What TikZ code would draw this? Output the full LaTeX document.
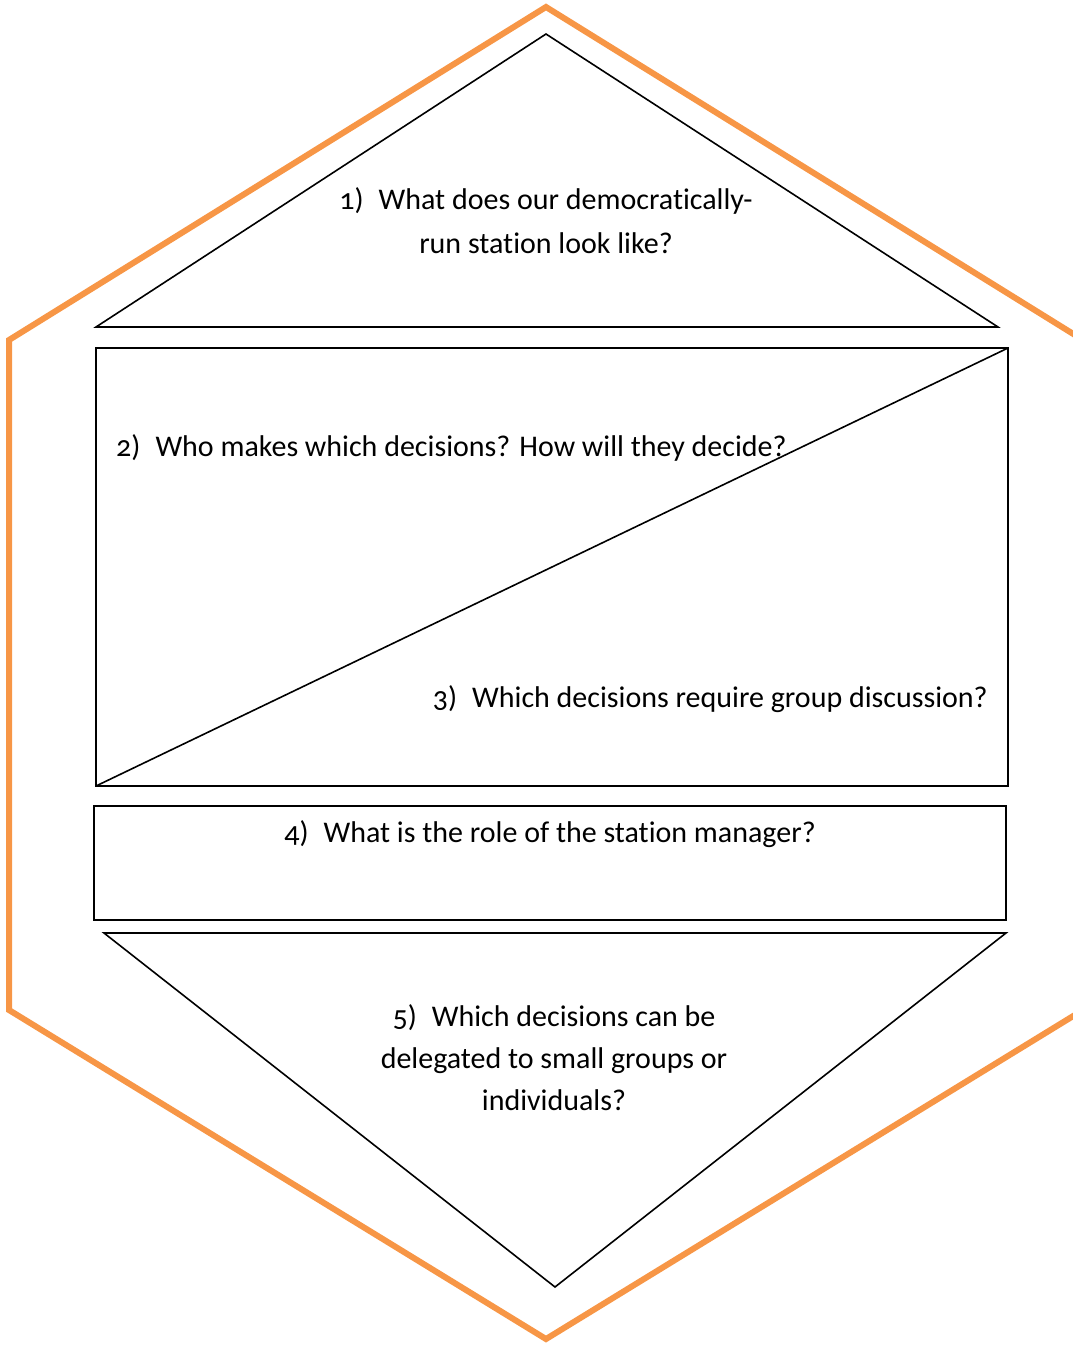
\documentclass[tikz,border=0pt]{standalone}
\usepackage{fontspec}
\setmainfont{Carlito}[Numbers=OldStyle,Ligatures=NoCommon]
\definecolor{hexorange}{HTML}{F79646}
\begin{document}
\begin{tikzpicture}[x=1pt,y=-1pt,
  frame/.style={draw=black,line width=1.6pt,line join=miter},
  qtext/.style={inner sep=0pt,font=\fontsize{30}{44}\selectfont}]
\useasboundingbox (0,0) rectangle (1073,1345);
\clip (0,0) rectangle (1073,1345);
% outer hexagon
\draw[draw=hexorange,line width=6pt,line join=miter]
  (546,7) -- (1083,340) -- (1083,1010) -- (546,1339) -- (9,1010) -- (9,340) -- cycle;
% top triangle
\coordinate (t1a) at (546,34);
\coordinate (t1l) at (96,327);
\coordinate (t1r) at (998,327);
\draw[frame] (t1a) -- (t1r) -- (t1l) -- cycle;
% split rectangle
\coordinate (r2tl) at (96,348);
\coordinate (r2br) at (1008,786);
\coordinate (r2bl) at (96,786);
\coordinate (r2tr) at (1008,348);
\draw[frame] (r2tl) rectangle (r2br);
\draw[frame] (r2bl) -- (r2tr);
% manager box
\coordinate (r4tl) at (94,806);
\coordinate (r4br) at (1006,920);
\draw[frame] (r4tl) rectangle (r4br);
% bottom triangle
\coordinate (t5l) at (104,933);
\coordinate (t5r) at (1006,933);
\coordinate (t5b) at (555,1287);
\draw[frame] (t5l) -- (t5r) -- (t5b) -- cycle;
% questions
\node[qtext,align=center] (q1) at (546,221)
  {1)\hspace{0.5em}What does our democratically-\\run station look like?};
\node[qtext,anchor=west] (q2) at (116,448)
  {2)\hspace{0.5em}Who makes which decisions? How will they decide?};
\node[qtext,anchor=east] (q3) at (988,699)
  {3)\hspace{0.5em}Which decisions require group discussion?};
\node[qtext] (q4) at (550,834)
  {4)\hspace{0.5em}What is the role of the station manager?};
\node[qtext,align=center,font=\fontsize{30}{42}\selectfont] (q5) at (554,1058)
  {5)\hspace{0.5em}Which decisions can be\\delegated to small groups or\\individuals?};
\end{tikzpicture}
\end{document}
